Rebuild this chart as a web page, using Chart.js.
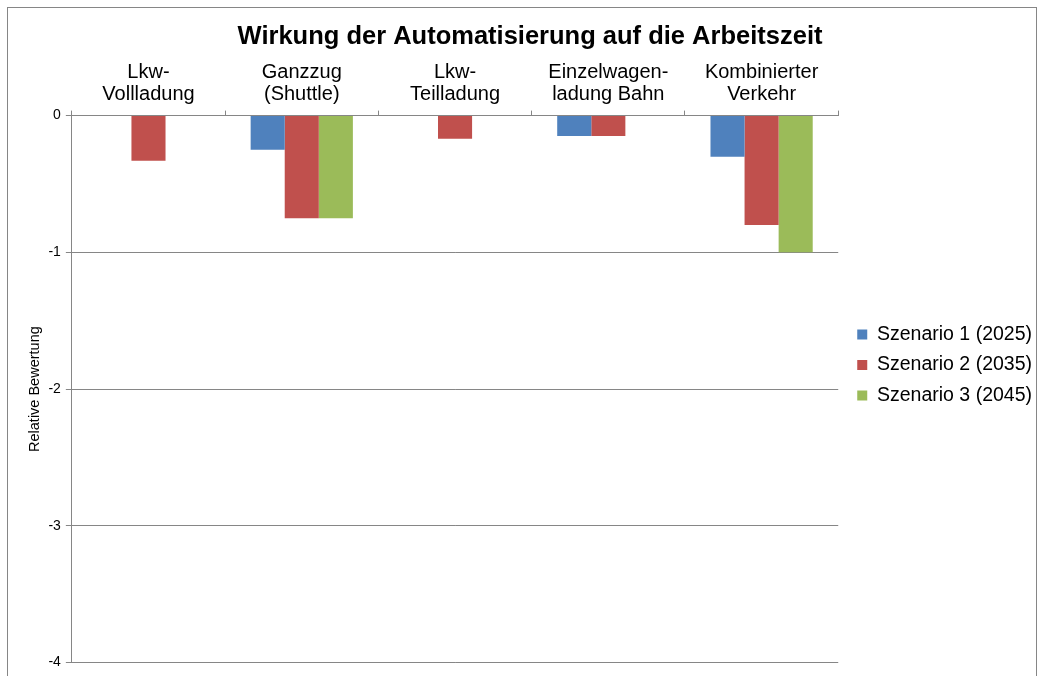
<!DOCTYPE html>
<html>
<head>
<meta charset="utf-8">
<script src="https://cdn.jsdelivr.net/npm/chart.js@4/dist/chart.umd.min.js"></script>
<style>
  body { margin: 0; background: #fff; }
  #wrap { width: 1038px; height: 676px; }
</style>
</head>
<body>
<div id="wrap"><canvas id="chart" width="1038" height="676"></canvas></div>
<script>
// chart data
const categories = [
  ['Lkw-', 'Vollladung'],
  ['Ganzzug', '(Shuttle)'],
  ['Lkw-', 'Teilladung'],
  ['Einzelwagen-', 'ladung Bahn'],
  ['Kombinierter', 'Verkehr']
];
const seriesNames = ['Szenario 1 (2025)', 'Szenario 2 (2035)', 'Szenario 3 (2045)'];
const szenario1 = [0, -0.25, 0, -0.15, -0.3];
const szenario2 = [-0.33, -0.75, -0.17, -0.15, -0.8];
const szenario3 = [0, -0.75, 0, 0, -1];
const yTicks = [0, -1, -2, -3, -4];

const colors = ['#4F81BD', '#C0504D', '#9BBB59'];
const gray = '#868686';
const font = 'Arial, "Liberation Sans", sans-serif';

// outer frame like the office chart border
const framePlugin = {
  id: 'frame',
  beforeDraw(chart) {
    const ctx = chart.ctx;
    ctx.save();
    ctx.fillStyle = '#fff';
    ctx.fillRect(0, 0, chart.width, chart.height);
    ctx.strokeStyle = gray;
    ctx.lineWidth = 1;
    ctx.strokeRect(7.5, 7.5, 1029, 720);
    ctx.restore();
  }
};

// the original chart is cut off at the bottom, so its legend sits lower
// and a bit further right than Chart.js would put it
const legendShift = {
  id: 'legendShift',
  afterLayout(chart) {
    const lg = chart.legend;
    lg.left += 8; lg.right += 8;
    lg.top += 22; lg.bottom += 22;
  }
};

const ctx = document.getElementById('chart').getContext('2d');
const chart = new Chart(ctx, {
  type: 'bar',
  data: {
    labels: categories,
    datasets: [szenario1, szenario2, szenario3].map((d, i) => ({
      label: seriesNames[i],
      data: d,
      backgroundColor: colors[i],
      borderWidth: 0,
      categoryPercentage: 0.667,
      barPercentage: 1.0
    }))
  },
  plugins: [framePlugin, legendShift],
  options: {
    responsive: false,
    animation: false,
    layout: { padding: { top: 16, left: 26, right: 4, bottom: 6 } },
    plugins: {
      title: {
        display: true,
        text: 'Wirkung der Automatisierung auf die Arbeitszeit',
        color: '#000',
        font: { family: font, size: 25.5, weight: 'bold' },
        padding: { top: 6, bottom: 4 }
      },
      legend: {
        position: 'right',
        labels: {
          color: '#000',
          font: { family: font, size: 19.5 },
          boxWidth: 10,
          boxHeight: 10,
          padding: 11
        }
      },
      tooltip: { enabled: false }
    },
    scales: {
      x: {
        position: 'top',
        grid: {
          offset: true,
          drawOnChartArea: false,
          drawTicks: true,
          tickLength: 5,
          color: gray
        },
        border: { display: true, color: gray },
        ticks: {
          color: '#000',
          font: { family: font, size: 20, lineHeight: 1.1 },
          padding: 5,
          maxRotation: 0
        }
      },
      y: {
        min: -4,
        max: 0,
        afterBuildTicks(axis) {
          axis.ticks = yTicks.map(v => ({ value: v }));
        },
        grid: { color: gray, tickLength: 6, drawTicks: true },
        border: { display: true, color: gray },
        ticks: {
          color: '#000',
          font: { family: font, size: 14 },
          padding: 5
        },
        title: {
          display: true,
          text: 'Relative Bewertung',
          color: '#000',
          font: { family: font, size: 14.5 },
          padding: { top: 0, bottom: 0 }
        }
      }
    }
  }
});
</script>
</body>
</html>
